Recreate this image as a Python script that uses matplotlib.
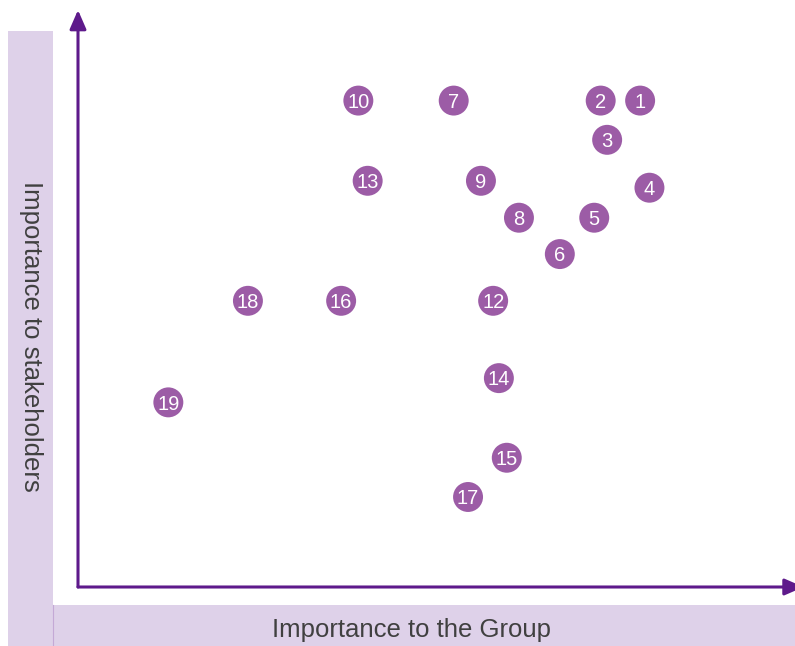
import matplotlib
matplotlib.use("Agg")
import matplotlib.pyplot as plt
from matplotlib.patches import Rectangle, FancyArrowPatch
from matplotlib.lines import Line2D

# Data: issue number, importance to the Group (x), importance to stakeholders (y), 0-100 scale
issues = ["1", "2", "3", "4", "5", "6", "7", "8", "9", "10",
          "12", "13", "14", "15", "16", "17", "18", "19"]
group_importance = [78.4, 72.9, 73.8, 79.7, 72.0, 67.2, 52.4, 61.5, 56.2, 39.1,
                    57.9, 40.4, 58.7, 59.8, 36.7, 54.4, 23.7, 12.6]
stakeholder_importance = [84.3, 84.3, 77.5, 69.2, 64.0, 57.7, 84.3, 64.0, 70.4, 84.3,
                          49.6, 70.4, 36.2, 22.4, 49.6, 15.6, 49.6, 32.0]

x_label = "Importance to the Group"
y_label = "Importance to stakeholders"

W, H = 795, 646
band_color = "#ded1e9"
axis_color = "#5e1a8b"
dot_color = "#9c5ca6"
text_color = "#404040"

fig = plt.figure(figsize=(W / 100, H / 100), dpi=100)
fig.patch.set_facecolor("white")

def fx(px):
    return px / W

def fy(py):
    return 1 - py / H

# background bands
fig.patches.append(Rectangle((fx(8), fy(646)), fx(53) - fx(8), fy(31) - fy(646),
                             transform=fig.transFigure, facecolor=band_color,
                             edgecolor="none", zorder=0))
fig.patches.append(Rectangle((fx(52), fy(646)), fx(795) - fx(52), fy(605) - fy(646),
                             transform=fig.transFigure, facecolor=band_color,
                             edgecolor="none", zorder=0))
fig.lines.append(Line2D([fx(52.5), fx(52.5)], [fy(646), fy(605)], transform=fig.transFigure,
                        color="#c4a9d6", lw=0.8))

label_font = ["Liberation Sans", "DejaVu Sans"]
fig.text(fx(30.5), fy(336), y_label, rotation=270, ha="center", va="center",
         fontsize=18.5, color=text_color, family=label_font)
fig.text(fx(411.5), fy(630), x_label, ha="center", va="center",
         fontsize=18.5, color=text_color, family=label_font)

# main axes: origin at pixel (78, 587), x=100 at 795, y=100 at 10
ax = fig.add_axes([fx(78), fy(587), fx(795) - fx(78), fy(10) - fy(587)])
ax.set_xlim(0, 100)
ax.set_ylim(0, 100)
ax.axis("off")
ax.patch.set_alpha(0)

arrow_kw = dict(arrowstyle="-|>,head_length=1.15,head_width=0.5", mutation_scale=10,
                color=axis_color, lw=2.2, transform=ax.transAxes, clip_on=False,
                shrinkA=0, shrinkB=0)
ax.add_patch(FancyArrowPatch((0, 0), (0, 1.0), **arrow_kw))
ax.add_patch(FancyArrowPatch((0, 0), (1.012, 0), **arrow_kw))

ax.scatter(group_importance, stakeholder_importance, s=465, color=dot_color,
           edgecolors="none", zorder=3, clip_on=False)
num_font = ["Liberation Sans", "DejaVu Sans"]
for lab, x, y in zip(issues, group_importance, stakeholder_importance):
    ax.annotate(lab, (x, y), xytext=(0, -5.3), textcoords="offset points",
                ha="center", va="baseline", color="white", fontsize=14.5,
                family=num_font, zorder=4)

fig.savefig("out.png", dpi=100, facecolor="white")
